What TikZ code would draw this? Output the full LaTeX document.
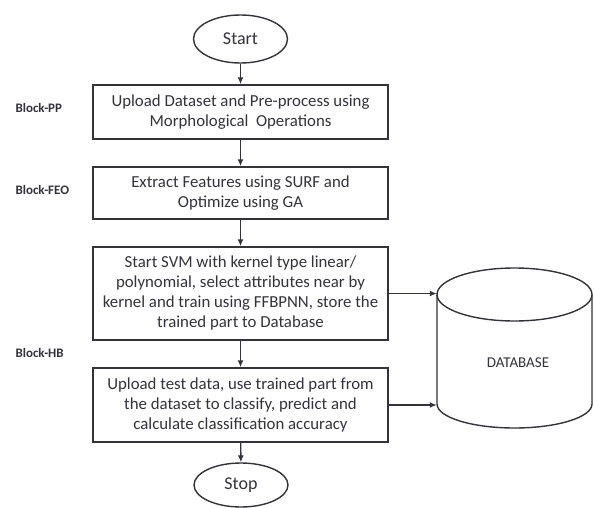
\documentclass[tikz,border=0pt]{standalone}
\usepackage{fontspec}
\setmainfont{Carlito}
\usetikzlibrary{arrows.meta,shapes.geometric}
\definecolor{ink}{RGB}{52,50,62}
\begin{document}
\begin{tikzpicture}[x=1pt,y=-1pt,
  line/.style={draw=ink, line width=1.4pt},
  arr/.style={line, -{Latex[length=7pt,width=6pt]}},
  procbox/.style={line, rectangle, minimum width=295pt, align=center, font=\fontsize{16.8}{20}\selectfont, text=ink, inner sep=0pt},
  term/.style={line, ellipse, minimum width=94pt, minimum height=48pt, inner sep=0pt, text=ink, font=\fontsize{18}{20}\selectfont},
  blk/.style={anchor=west, font=\bfseries\fontsize{13}{15}\selectfont, text=ink}]
\useasboundingbox (0,0) rectangle (594,508);
\fill[white] (0,0) rectangle (594,508);

\node[term] (start) at (240.5,39) {Start};
\node[procbox, minimum height=54pt] (pp) at (240.5,112) {Upload Dataset and Pre-process using\\Morphological\ \ Operations};
\node[procbox, minimum height=52pt] (feo) at (240.5,193) {Extract Features using SURF and\\Optimize using GA};
\node[procbox, minimum height=93pt] (svm) at (240.5,293.5) {Start SVM with kernel type linear/\\polynomial, select attributes near by\\kernel and train using FFBPNN, store the\\trained part to Database};
\node[procbox, minimum height=74pt] (test) at (240.5,405) {Upload test data, use trained part from\\the dataset to classify, predict and\\calculate classification accuracy};
\node[term, minimum height=44pt] (stop) at (241,485) {Stop};

\node[blk] (bpp) at (12,108) {Block-PP};
\node[blk] (bfeo) at (12,190) {Block-FEO};
\node[blk] (bhb) at (12,353) {Block-HB};

% database cylinder
\node[inner sep=0pt, minimum width=155pt, minimum height=162pt] (db) at (514.5,349) {};
\draw[line] (437,294.5) -- (437,404) arc[start angle=180, end angle=360, x radius=77.5, y radius=-24] -- (592,294.5);
\draw[line] (514.5,294.5) ellipse[x radius=77.5, y radius=26.5];
\node[font=\fontsize{15}{17}\selectfont, text=ink] (dbl) at (518,363) {DATABASE};

\draw[arr] (start) -- (pp);
\draw[arr] (pp) -- (feo);
\draw[arr] (feo) -- (svm);
\draw[arr] (svm) -- (test);
\draw[arr] (test) -- (stop);
\draw[arr] (svm.east) -- (svm.east -| db.west);
\draw[arr] (test.east) -- (test.east -| db.west);
\end{tikzpicture}
\end{document}
